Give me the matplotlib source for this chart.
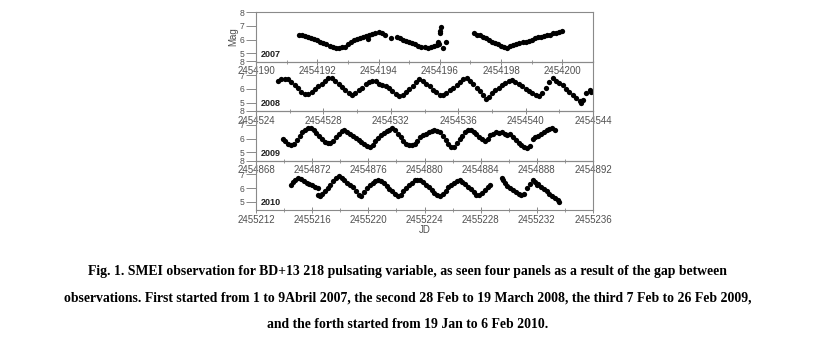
import matplotlib
matplotlib.use("Agg")
import matplotlib.pyplot as plt
from matplotlib.ticker import MultipleLocator, FormatStrFormatter

# Julian date of the left edge of each panel, window length, tick steps (days)
start_jd = [2454190, 2454524, 2454868, 2455212]
span_days = [11, 20, 24, 24]
major_step = [2, 4, 4, 4]
years = ['2007', '2008', '2009', '2010']

# 2007 (days after 2454190, magnitude)
t2007 = [1.4, 1.5, 1.6, 1.7, 1.8, 1.9, 2.0, 2.1, 2.2, 2.3, 2.4, 2.5, 2.6, 2.7,
         2.8, 2.9, 3.0, 3.1, 3.2, 3.3, 3.4, 3.5, 3.6, 3.65, 3.7, 3.8, 3.9, 4.0,
         4.1, 4.2, 4.4, 4.6, 4.7, 4.8, 4.9, 5.0, 5.1, 5.2, 5.3, 5.4, 5.5, 5.6,
         5.7, 5.8, 5.9, 5.95, 5.98, 6.0, 6.02, 6.05, 6.1, 6.2,
         7.1, 7.2, 7.3, 7.4, 7.5, 7.6, 7.7, 7.8, 7.9, 8.0, 8.1, 8.2, 8.3, 8.4,
         8.5, 8.6, 8.7, 8.8, 8.9, 9.0, 9.1, 9.2, 9.3, 9.4, 9.5, 9.6, 9.7, 9.8,
         9.9, 10.0]
m2007 = [6.35, 6.30, 6.22, 6.15, 6.08, 6.02, 5.95, 5.85, 5.75, 5.65, 5.55, 5.48,
         5.38, 5.35, 5.42, 5.45, 5.65, 5.80, 5.95, 6.05, 6.12, 6.20, 6.28, 6.06,
         6.35, 6.40, 6.45, 6.52, 6.45, 6.35, 6.10, 6.15, 6.10, 5.95, 5.90, 5.85,
         5.75, 5.65, 5.55, 5.45, 5.42, 5.40, 5.45, 5.50, 5.60, 5.85, 5.65, 6.45,
         6.60, 6.90, 5.40, 5.85,
         6.45, 6.35, 6.30, 6.20, 6.10, 6.00, 5.85, 5.75, 5.65, 5.55, 5.45, 5.40,
         5.50, 5.60, 5.70, 5.75, 5.80, 5.85, 5.90, 6.00, 6.10, 6.15, 6.20, 6.25,
         6.30, 6.35, 6.45, 6.50, 6.55, 6.60]

# 2008 (days after 2454524)
t2008 = [1.3, 1.5, 1.7, 1.9, 2.1, 2.3, 2.5, 2.7, 2.9, 3.1, 3.3, 3.5, 3.7, 3.9,
         4.1, 4.3, 4.5, 4.7, 4.9, 5.1, 5.3, 5.5, 5.7, 5.9, 6.1, 6.3, 6.5, 6.7,
         6.9, 7.1, 7.3, 7.5, 7.7, 7.9, 8.1, 8.3, 8.5, 8.7, 8.9, 9.1, 9.3, 9.5,
         9.7, 9.9, 10.1, 10.3, 10.5, 10.7, 10.9, 11.1, 11.3, 11.5, 11.7, 11.9,
         12.1, 12.3, 12.5, 12.7, 12.9, 13.1, 13.3, 13.5, 13.65, 13.8, 14.0, 14.2,
         14.4, 14.6, 14.8, 15.0, 15.2, 15.4, 15.6, 15.8, 16.0, 16.2, 16.4, 16.6,
         16.8, 17.0, 17.2, 17.4, 17.6, 17.8, 18.0, 18.2, 18.4, 18.6, 18.8, 19.0,
         19.2, 19.3, 19.4, 19.6, 19.8, 19.9]
m2008 = [6.60, 6.70, 6.75, 6.70, 6.50, 6.30, 6.05, 5.80, 5.65, 5.65, 5.80, 6.00,
         6.20, 6.40, 6.60, 6.80, 6.80, 6.60, 6.40, 6.15, 5.90, 5.70, 5.60, 5.70,
         5.90, 6.10, 6.35, 6.50, 6.60, 6.55, 6.40, 6.30, 6.20, 6.05, 5.85, 5.65,
         5.50, 5.60, 5.80, 6.00, 6.25, 6.50, 6.75, 6.60, 6.40, 6.20, 5.95, 5.75,
         5.60, 5.60, 5.70, 5.90, 6.10, 6.30, 6.50, 6.70, 6.80, 6.60, 6.35, 6.10,
         5.85, 5.60, 5.30, 5.45, 5.70, 5.90, 6.10, 6.30, 6.45, 6.60, 6.65, 6.50,
         6.35, 6.20, 6.00, 5.85, 5.70, 5.60, 5.50, 5.70, 6.10, 6.50, 6.80, 6.60,
         6.45, 6.30, 6.00, 5.80, 5.60, 5.35, 5.10, 4.95, 5.20, 5.70, 5.90, 5.80]

# 2009 (days after 2454868)
t2009 = [1.9, 2.1, 2.3, 2.5, 2.7, 2.9, 3.1, 3.3, 3.5, 3.7, 3.9, 4.1, 4.3, 4.5,
         4.7, 4.9, 5.1, 5.3, 5.5, 5.7, 5.9, 6.1, 6.3, 6.5, 6.7, 6.9, 7.1, 7.3,
         7.5, 7.7, 7.9, 8.1, 8.3, 8.5, 8.7, 8.9, 9.1, 9.3, 9.5, 9.7, 9.9, 10.1,
         10.3, 10.5, 10.7, 10.9, 11.1, 11.3, 11.5, 11.7, 11.9, 12.1, 12.3, 12.5,
         12.7, 12.9, 13.1, 13.3, 13.5, 13.7, 13.9, 14.1, 14.3, 14.5, 14.7, 14.9,
         15.1, 15.3, 15.5, 15.7, 15.9, 16.1, 16.3, 16.5, 16.7, 16.9, 17.1, 17.3,
         17.5, 17.7, 17.9, 18.1, 18.3, 18.5, 18.7, 18.9, 19.1, 19.3, 19.5, 19.7,
         19.9, 20.1, 20.3, 20.5, 20.7, 20.9, 21.1, 21.3]
m2009 = [6.00, 5.80, 5.60, 5.50, 5.60, 5.90, 6.20, 6.45, 6.65, 6.75, 6.75, 6.60,
         6.40, 6.15, 5.95, 5.75, 5.70, 5.70, 5.85, 6.10, 6.35, 6.55, 6.60, 6.50,
         6.35, 6.20, 6.05, 5.90, 5.75, 5.60, 5.45, 5.40, 5.55, 5.80, 6.05, 6.25,
         6.40, 6.55, 6.65, 6.75, 6.60, 6.35, 6.10, 5.85, 5.60, 5.55, 5.55, 5.60,
         5.85, 6.10, 6.25, 6.35, 6.50, 6.55, 6.60, 6.55, 6.45, 6.20, 5.90, 5.60,
         5.35, 5.40, 5.65, 5.95, 6.20, 6.45, 6.60, 6.65, 6.50, 6.30, 6.10, 5.95,
         5.85, 6.00, 6.25, 6.35, 6.45, 6.40, 6.45, 6.35, 6.25, 6.30, 6.10, 5.90,
         5.70, 5.55, 5.40, 5.30, 5.45, 5.95, 6.10, 6.20, 6.35, 6.50, 6.60, 6.70,
         6.80, 6.60]

# 2010 (days after 2455212)
t2010 = [2.5, 2.6, 2.8, 3.0, 3.2, 3.4, 3.6, 3.8, 4.0, 4.2, 4.4, 4.45, 4.55, 4.7,
         4.9, 5.1, 5.3, 5.5, 5.7, 5.9, 6.1, 6.3, 6.5, 6.7, 6.9, 7.1, 7.3, 7.5,
         7.7, 7.9, 8.1, 8.3, 8.5, 8.7, 8.9, 9.1, 9.3, 9.5, 9.7, 9.9, 10.1, 10.3,
         10.5, 10.7, 10.9, 11.1, 11.3, 11.5, 11.7, 11.9, 12.1, 12.3, 12.5, 12.7,
         12.9, 13.1, 13.3, 13.5, 13.7, 13.9, 14.1, 14.3, 14.5, 14.7, 14.9, 15.1,
         15.3, 15.5, 15.7, 15.9, 16.1, 16.3, 16.5, 16.7,
         17.5, 17.6, 17.7, 17.9, 18.1, 18.3, 18.5, 18.7, 18.9, 19.1, 19.3, 19.5,
         19.7, 19.9, 20.0, 20.1, 20.3, 20.5, 20.7, 20.9, 21.1, 21.3, 21.5, 21.6]
m2010 = [6.20, 6.45, 6.60, 6.70, 6.65, 6.50, 6.40, 6.30, 6.20, 6.10, 6.00, 5.50,
         5.40, 5.55, 5.75, 6.00, 6.25, 6.50, 6.75, 6.85, 6.70, 6.55, 6.40, 6.25,
         6.05, 5.80, 5.50, 5.45, 5.70, 6.00, 6.20, 6.35, 6.50, 6.55, 6.50, 6.35,
         6.15, 5.95, 5.75, 5.55, 5.40, 5.50, 5.75, 6.00, 6.20, 6.40, 6.55, 6.60,
         6.55, 6.45, 6.25, 6.05, 5.85, 5.65, 5.50, 5.40, 5.55, 5.80, 6.05, 6.25,
         6.40, 6.50, 6.55, 6.45, 6.30, 6.10, 5.90, 5.70, 5.50, 5.50, 5.65, 5.85,
         6.05, 6.25,
         6.75, 6.55, 6.40, 6.15, 6.00, 5.85, 5.70, 5.60, 5.50, 5.60, 6.00, 6.30,
         6.55, 6.45, 6.20, 6.30, 6.10, 5.95, 5.75, 5.60, 5.40, 5.30, 5.15, 4.95]

days = [t2007, t2008, t2009, t2010]
mags = [m2007, m2008, m2009, m2010]

caption = [
    "Fig. 1. SMEI observation for BD+13 218 pulsating variable, as seen four panels as a result of the gap between",
    "observations. First started from 1 to 9Abril 2007, the second 28 Feb to 19 March 2008, the third 7 Feb to 26 Feb 2009,",
    "and the forth started from 19 Jan to 6 Feb 2010.",
]

W, H = 815, 339
fig = plt.figure(figsize=(W / 100, H / 100), dpi=100)
fig.patch.set_facecolor('white')

left, right, top, bottom = 256, 593, 12, 210
ph = (bottom - top) / 4
grey = '#8a8a8a'
txt = '#505050'

for i in range(4):
    y0 = top + i * ph
    ax = fig.add_axes([left / W, 1 - (y0 + ph) / H, (right - left) / W, ph / H])
    ax.set_facecolor('none')
    x = [start_jd[i] + d for d in days[i]]
    ax.plot(x, mags[i], 'o', color='black', markersize=3.8, markeredgewidth=0)
    ax.set_xlim(start_jd[i], start_jd[i] + span_days[i])
    ax.set_ylim(4.4, 8)
    ax.set_yticks([5, 6, 7, 8])
    ax.xaxis.set_major_locator(MultipleLocator(major_step[i]))
    ax.xaxis.set_minor_locator(MultipleLocator(major_step[i] / 2))
    ax.xaxis.set_major_formatter(FormatStrFormatter('%d'))
    for s in ax.spines.values():
        s.set_color(grey)
        s.set_linewidth(0.8)
    ax.tick_params(axis='y', direction='out', length=7, width=0.7, color=grey,
                   labelsize=6.2, labelcolor=txt, pad=1.5)
    ax.tick_params(axis='x', which='major', direction='inout', length=5, width=0.7,
                   color=grey, labelsize=7, labelcolor=txt, pad=1)
    ax.tick_params(axis='x', which='minor', direction='inout', length=3, width=0.6,
                   color=grey)
    for lab in ax.get_xticklabels() + ax.get_yticklabels():
        lab.set_family('Liberation Sans')
    ax.text(0.015, 0.1, years[i], transform=ax.transAxes, fontsize=6.5,
            fontweight='bold', color='#202020', family='Liberation Sans')
    if i == 0:
        ax.set_ylabel('Mag', fontsize=7, color=txt, labelpad=1,
                      family='Liberation Sans')
    if i == 3:
        ax.set_xlabel('JD', fontsize=7, color=txt, labelpad=0,
                      family='Liberation Sans')

for k, line in enumerate(caption):
    fig.text(0.5, 1 - (272 + 26.5 * k) / H, line, ha='center', va='center',
             fontsize=9.9, fontweight='bold', family='Liberation Serif')

fig.savefig('out.png', dpi=100)
